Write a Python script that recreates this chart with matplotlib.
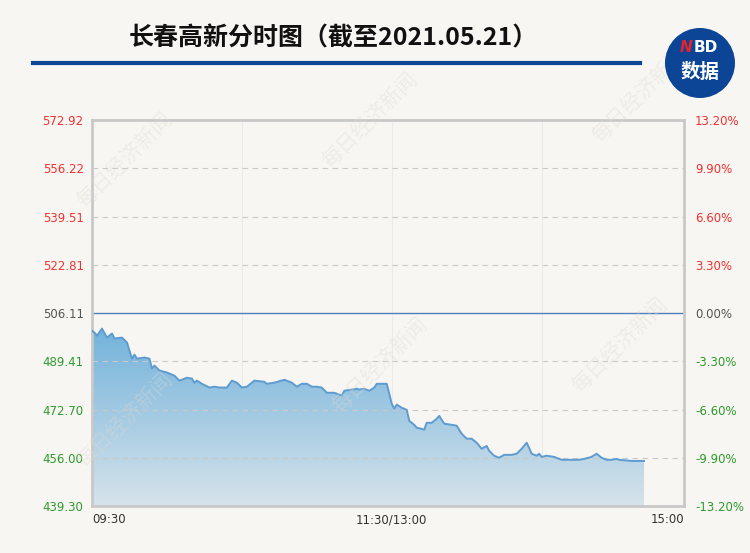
import numpy as np
import matplotlib
matplotlib.use("Agg")
import matplotlib.pyplot as plt
from matplotlib.patches import Circle
from matplotlib.lines import Line2D

plt.rcParams["font.family"] = ["Noto Sans CJK SC", "DejaVu Sans"]

# -----------------------------
# Data (minutes after 09:30, trading time)
# -----------------------------
PRE_CLOSE = 506.11
Y_TICKS = [439.30, 456.00, 472.70, 489.41, 506.11, 522.81, 539.51, 556.22, 572.92]
PCT_LABELS = ["-13.20%", "-9.90%", "-6.60%", "-3.30%", "0.00%", "3.30%", "6.60%", "9.90%", "13.20%"]
X_LABELS = ["09:30", "11:30/13:00", "15:00"]

minutes = [0, 1, 2, 4, 6, 8, 9, 12, 14, 16, 17, 18, 21, 23, 24, 25, 27, 30, 33, 35,
           38, 40, 41, 42, 44, 47, 49, 51, 54, 56, 58, 60, 62, 65, 69, 70, 73, 77, 80, 82,
           84, 86, 88, 90, 92, 94, 97, 100, 101, 104, 106, 107, 109, 111, 113, 114, 118, 119, 120, 121,
           122, 124, 126, 127, 129, 130, 132, 133, 134, 136, 138, 139, 141, 144, 146, 148, 150, 152, 154, 156,
           158, 159, 161, 163, 165, 168, 170, 172, 174, 175, 176, 178, 179, 180, 182, 185, 188, 192, 195, 197,
           200, 202, 204, 206, 208, 210, 211, 216, 221]
prices = [500.0, 499.3, 498.3, 500.7, 497.6, 499.0, 497.3, 497.6, 495.9, 490.3, 491.7, 490.3, 490.7, 490.3, 486.9, 487.9, 486.2, 485.5, 484.4, 482.7,
          483.7, 483.4, 482.0, 482.7, 481.6, 480.3, 480.6, 480.3, 480.3, 482.7, 482.0, 480.3, 480.6, 482.7, 482.3, 481.6, 482.0, 483.0, 482.0, 480.6,
          481.6, 481.6, 480.6, 480.6, 480.3, 478.5, 478.5, 477.5, 479.2, 479.6, 479.9, 479.6, 479.9, 479.2, 480.3, 481.6, 481.6, 478.2, 474.7, 473.0,
          474.4, 473.3, 472.6, 468.8, 467.4, 466.4, 466.0, 465.7, 468.1, 468.1, 469.5, 470.5, 467.8, 467.4, 467.1, 464.3, 462.6, 462.6, 461.2, 459.1,
          460.1, 458.4, 456.7, 456.0, 457.0, 457.0, 457.4, 459.1, 461.2, 459.4, 457.4, 456.7, 457.4, 456.3, 456.7, 456.3, 455.3, 455.3, 455.3, 455.6,
          456.3, 457.4, 456.0, 455.3, 455.3, 455.6, 455.3, 454.9, 454.9]

# -----------------------------
# Colors
# -----------------------------
BG = "#f8f6f2"
LINE = "#5e9bd0"
TOP_FILL = np.array([0.45, 0.70, 0.86])
BOT_FILL = np.array([0.84, 0.89, 0.92])
RED = "#f03232"
GREEN = "#2e9a2e"
GREY_TXT = "#555555"
NAVY = "#0d4596"

fig = plt.figure(figsize=(7.5, 5.53), dpi=100, facecolor=BG)
ax = fig.add_axes([92 / 750, 1 - 506 / 553, 592 / 750, 386 / 553])
ax.set_facecolor(BG)

y_min, y_max = Y_TICKS[0], Y_TICKS[-1]
ax.set_xlim(0, 237)
ax.set_ylim(y_min, y_max)

# gradient area under the line
x = np.array(minutes, dtype=float)
y = np.array(prices)
poly = ax.fill_between(x, y, y_min, color="none", lw=0)
grad = np.linspace(0, 1, 256)[:, None]
colors = TOP_FILL[None, None, :] * (1 - grad[..., None]) + BOT_FILL[None, None, :] * grad[..., None]
img = ax.imshow(colors, extent=[x[0], x[-1], y_min, max(prices)], aspect="auto",
                origin="upper", zorder=1)
img.set_clip_path(poly.get_paths()[0], transform=ax.transData)
ax.plot(x, y, color=LINE, lw=1.4, zorder=3)

# grid lines
for v in Y_TICKS[1:-1]:
    if v == PRE_CLOSE:
        ax.axhline(v, color="#4f7fb8", lw=1.0, zorder=2)
    else:
        ax.axhline(v, color="#c9c9c9", lw=0.8, ls=(0, (5, 4)), zorder=2)
for v in [60, 120, 180]:
    ax.axvline(v, color="#ebebeb", lw=0.8, zorder=0.5)

for s in ax.spines.values():
    s.set_color("#c8c8c8")
    s.set_linewidth(2)

ax.set_xticks([])
ax.set_yticks(Y_TICKS)
ax.set_yticklabels([f"{v:.2f}" for v in Y_TICKS], fontsize=8.5, family="DejaVu Sans")
ax.tick_params(axis="y", length=0, pad=6)
for lbl, v in zip(ax.get_yticklabels(), Y_TICKS):
    lbl.set_color(RED if v > PRE_CLOSE else GREEN if v < PRE_CLOSE else GREY_TXT)

ax2 = ax.twinx()
ax2.set_ylim(y_min, y_max)
ax2.set_yticks(Y_TICKS)
ax2.set_yticklabels(PCT_LABELS, fontsize=8.5, family="DejaVu Sans")
ax2.tick_params(axis="y", length=0, pad=8)
for s in ax2.spines.values():
    s.set_visible(False)
for lbl, v in zip(ax2.get_yticklabels(), Y_TICKS):
    lbl.set_color(RED if v > PRE_CLOSE else GREEN if v < PRE_CLOSE else GREY_TXT)

# x labels
ax.text(0, -0.035, X_LABELS[0], transform=ax.get_xaxis_transform(), ha="left", va="center",
        fontsize=8.5, color="#333333", family="DejaVu Sans")
ax.text(120, -0.035, X_LABELS[1], transform=ax.get_xaxis_transform(), ha="center", va="center",
        fontsize=8.5, color="#333333", family="DejaVu Sans")
ax.text(237, -0.035, X_LABELS[2], transform=ax.get_xaxis_transform(), ha="right", va="center",
        fontsize=8.5, color="#333333", family="DejaVu Sans")

# watermarks
for px, py in [(125, 160), (370, 120), (640, 95), (125, 420), (380, 365), (620, 345)]:
    fig.text(px / 750, 1 - py / 553, "每日经济新闻", rotation=45, ha="center", va="center",
             fontsize=15, color="#dedad4", alpha=0.35, zorder=10)

# title
fig.text(333 / 750, 1 - 38 / 553, "长春高新分时图（截至2021.05.21）", ha="center", va="center",
         fontsize=18, fontweight="bold", color="#111111")
fig.add_artist(Line2D([33 / 750, 640 / 750], [1 - 63 / 553, 1 - 63 / 553],
                      transform=fig.transFigure, color=NAVY, lw=3))

# logo
fig.add_artist(Circle((7.00, 5.53 - 0.63), 0.35, transform=fig.dpi_scale_trans,
                      facecolor=NAVY, edgecolor="none", zorder=20))
fig.text(686 / 750, 1 - 48 / 553, "N", ha="center", va="center", fontsize=11,
         fontweight="bold", style="italic", color="#e8202a", family="DejaVu Sans", zorder=21)
fig.text(706 / 750, 1 - 48 / 553, "BD", ha="center", va="center", fontsize=11,
         fontweight="bold", color="white", family="DejaVu Sans", zorder=21)
fig.text(700 / 750, 1 - 72 / 553, "数据", ha="center", va="center", fontsize=14,
         fontweight="bold", color="white", zorder=21)

fig.savefig("out.png", dpi=100, facecolor=BG)
